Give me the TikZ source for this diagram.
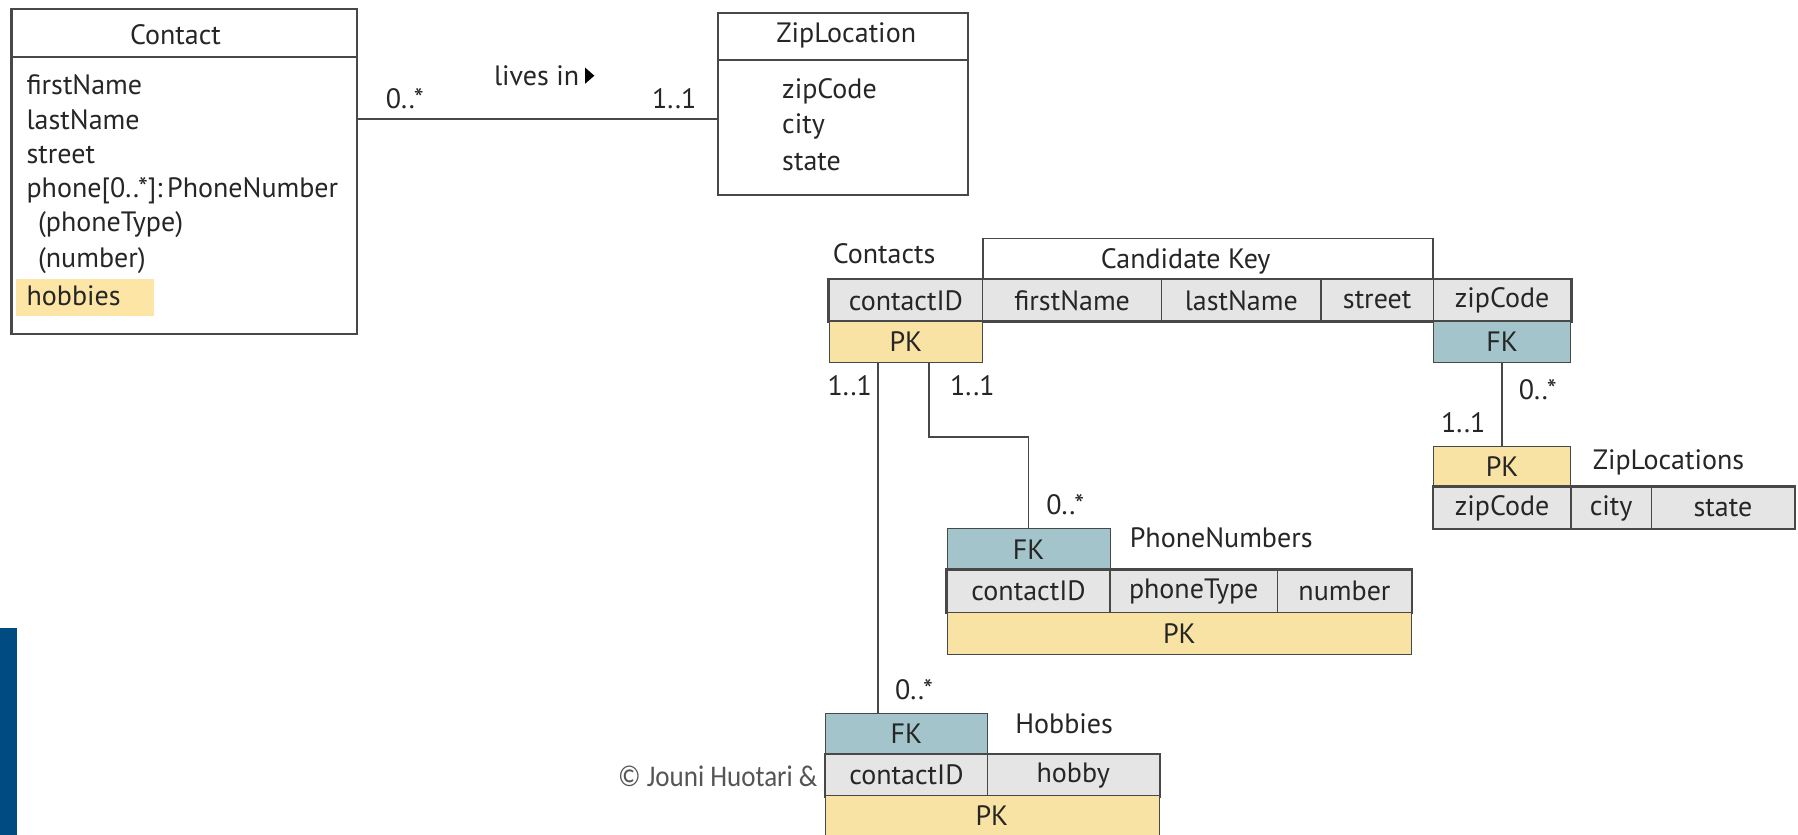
\documentclass[tikz,border=0pt]{standalone}
\usepackage{fontspec}
\setmainfont{PT Sans}
\newfontfamily\copyfont{Carlito}
\usetikzlibrary{fit,calc}
\definecolor{txt}{HTML}{262626}
\definecolor{edge}{HTML}{484848}
\definecolor{pkyel}{HTML}{F8E2A4}
\definecolor{hobyel}{HTML}{FDE5A6}
\definecolor{fkteal}{HTML}{A2C4CA}
\definecolor{rowgray}{HTML}{E5E5E5}
\definecolor{barblue}{HTML}{004B82}
\definecolor{cgray}{HTML}{555555}
\newcommand\tcell[7]{\node[#6, fit={(#2,#3)(#4,#5)}] (#1) {};\node[lbl] (#1t) at (#1.center) {#7};}
\begin{document}
\begin{tikzpicture}[x=1.1467pt,y=-1.1467pt,
  every node/.style={font=\fontsize{28}{32}\selectfont, text=txt},
  box/.style={draw=edge, line width=2.2pt, inner sep=0pt},
  cell/.style={draw=edge, line width=1.3pt, fill=rowgray, inner sep=0pt},
  pkc/.style={draw=edge, line width=1pt, fill=pkyel, inner sep=0pt},
  fkc/.style={draw=edge, line width=1pt, fill=fkteal, inner sep=0pt},
  outer/.style={draw=edge, line width=2.4pt},
  conn/.style={draw=edge, line width=1.8pt},
  attr/.style={anchor=west, inner sep=0pt},
  lbl/.style={inner sep=0pt}]
\useasboundingbox (0,0) rectangle (1568,728);
\clip (0,0) rectangle (1568,728);
\fill[white] (0,0) rectangle (1568,728);

% ---------- UML: Contact ----------
\node[box, fit={(10,8)(311,291)}] (contact) {};
\draw[edge, line width=2.2pt] (contact.west |- 0,50) -- (contact.east |- 0,50);
\node[lbl] (contacthead) at (153,30) {Contact};
\fill[hobyel] (14,243) rectangle (134,276);
\node[attr] (a1) at (23,74) {firstName};
\node[attr] (a2) at (23,104) {lastName};
\node[attr] (a3) at (23,135) {street};
\node[attr] (a4) at (23,166) {phone[0..*]:\,PhoneNumber};
\node[attr] (a5) at (33,196) {(phoneType)};
\node[attr] (a6) at (33,227) {(number)};
\node[attr] (a7) at (23,258) {hobbies};

% ---------- UML: ZipLocation ----------
\node[box, fit={(626,11)(844,170)}] (zip) {};
\draw[edge, line width=2.2pt] (zip.west |- 0,52) -- (zip.east |- 0,52);
\node[lbl] (ziphead) at (738,31) {ZipLocation};
\node[attr] (z1) at (682,80) {zipCode};
\node[attr] (z2) at (682,110) {city};
\node[attr] (z3) at (682,141) {state};

% association
\coordinate (assoc) at (470,104);
\draw[conn] (contact.east |- assoc) -- (zip.west |- assoc);
\node[lbl] (m1) at (353,86) {0..*};
\node[lbl] (lv) at (468,66) {lives in};
\fill[black] ($(lv.east)+(5,-7)$) -- ++(0,14) -- ++(8,-7) -- cycle;
\node[lbl] (m2) at (588,86) {1..1};

% ---------- Contacts table ----------
\node[lbl] (contactslbl) at (771,221) {Contacts};
\node[draw=edge, line width=1.8pt, fill=white, inner sep=0pt, fit={(857,208)(1250,244)}] (ck) {};
\node[lbl] (ckt) at (1034,228) {Candidate Key};
\tcell{cid}{723}{244}{857}{280}{cell}{contactID}
\tcell{cfn}{857}{244}{1013}{280}{cell}{firstName}
\tcell{cln}{1013}{244}{1152}{280}{cell}{lastName}
\tcell{cst}{1152}{244}{1250}{280}{cell}{street}
\tcell{czip}{1250}{244}{1370}{280}{cell}{zipCode}
\draw[outer] (cid.north west) rectangle (czip.south east);
\tcell{cpk}{723}{280}{857}{316}{pkc}{PK}
\tcell{cfk}{1250}{280}{1370}{316}{fkc}{FK}

% ---------- ZipLocations table ----------
\tcell{zpk}{1250}{389}{1370}{425}{pkc}{PK}
\node[lbl] (ziplbl) at (1455,403) {ZipLocations};
\tcell{zz}{1250}{425}{1370}{461}{cell}{zipCode}
\tcell{zc}{1370}{425}{1440}{461}{cell}{city}
\tcell{zs}{1440}{425}{1565}{461}{cell}{state}
\draw[outer] (zz.north west) rectangle (zs.south east);

% ---------- PhoneNumbers table ----------
\tcell{pfk}{826}{461}{968}{497}{fkc}{FK}
\node[lbl] (phonelbl) at (1065,469) {PhoneNumbers};
\tcell{pid}{826}{497}{968}{534}{cell}{contactID}
\tcell{ptype}{968}{497}{1114}{534}{cell}{phoneType}
\tcell{pnum}{1114}{497}{1231}{534}{cell}{number}
\draw[outer] (pid.north west) rectangle (pnum.south east);
\tcell{ppk}{826}{534}{1231}{571}{pkc}{PK}

% ---------- Hobbies table ----------
\tcell{hfk}{720}{622}{861}{658}{fkc}{FK}
\node[lbl] (hoblbl) at (928,631) {Hobbies};
\tcell{hid}{720}{658}{861}{694}{cell}{contactID}
\tcell{hhob}{861}{658}{1011}{694}{cell}{hobby}
\draw[outer] (hid.north west) rectangle (hhob.south east);
\node[pkc, fit={(720,694)(1011,745)}] (hpk) {};
\node[lbl] (hpktxt) at (865,711) {PK};

% ---------- connectors ----------
\coordinate (k1) at (766,316);
\coordinate (k2) at (810,316);
\coordinate (bend) at (850,381);
\draw[conn] (cpk.south -| k1) -- (hfk.north -| k1);
\draw[conn] (cpk.south -| k2) |- (bend) -| (pfk.north);
\draw[conn] (cfk.south) -- (zpk.north);
\node[lbl] (m3) at (741,336) {1..1};
\node[lbl] (m4) at (848,336) {1..1};
\node[lbl] (m5) at (929,440) {0..*};
\node[lbl] (m6) at (1341,340) {0..*};
\node[lbl] (m7) at (1276,369) {1..1};
\node[lbl] (m8) at (797,601) {0..*};

% ---------- slide leftovers ----------
\fill[barblue] (0,548) rectangle (15,728);
\node[anchor=east, inner sep=0pt, text=cgray, font=\copyfont\fontsize{30}{32}\selectfont] (copy) at (713,677) {\scalebox{0.9}[1]{© Jouni Huotari \&}};
\end{tikzpicture}
\end{document}
